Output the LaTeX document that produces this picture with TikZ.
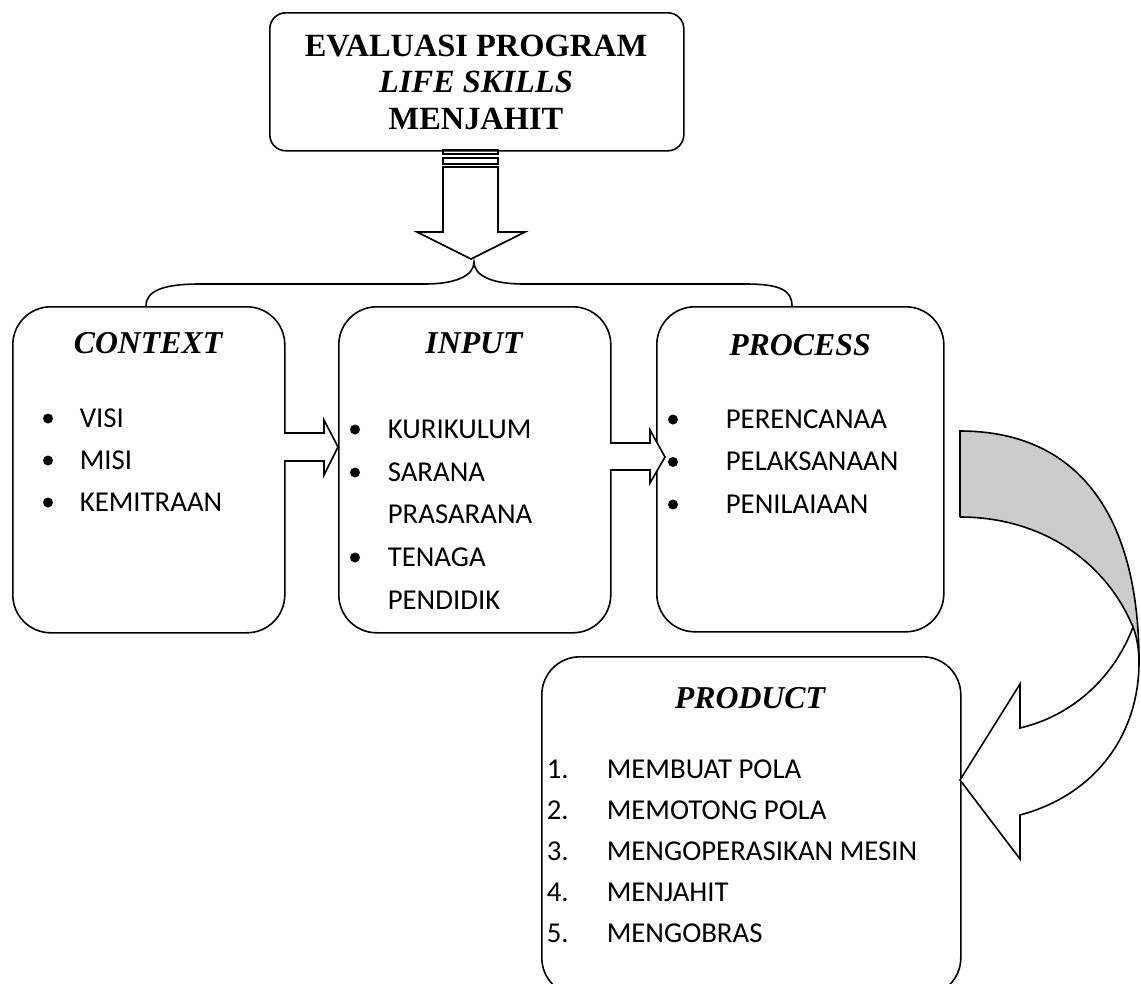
\documentclass[tikz,border=0pt]{standalone}
\usepackage{fontspec}
\setmainfont{Liberation Serif}
\newfontfamily\listfont{Carlito}
\definecolor{bandgray}{RGB}{204,204,204}

\begin{document}
\begin{tikzpicture}[x=1pt, y=-1pt, line width=1.6pt, line join=miter,
  box/.style={draw, inner sep=0pt, anchor=north west, rounded corners=38pt},
  headline/.style={font=\fontsize{32.4}{36}\selectfont\bfseries, anchor=base, inner sep=0pt},
  boxtitle/.style={font=\fontsize{31.8}{36}\selectfont\bfseries\itshape, anchor=base, inner sep=0pt},
  item/.style={font=\listfont\fontsize{28.8}{34}\selectfont, anchor=base west, inner sep=0pt},
  dot/.style={circle, fill, draw=none, inner sep=0pt, minimum size=10pt},
  blockarrow/.style={draw, fill=white}]

\useasboundingbox (0,0) rectangle (1141,983);

% ---- main heading box ----
\node[box, rounded corners=16pt, minimum width=414pt, minimum height=138pt] (head) at (269,12) {};
\node[headline] (h1) at (476,56) {EVALUASI PROGRAM};
\node[headline, font=\fontsize{32.4}{36}\selectfont\bfseries\itshape] (h2) at (476,92.5) {LIFE SKILLS};
\node[headline] (h3) at (476,129.5) {MENJAHIT};

% ---- striped down arrow under the heading ----
\draw (443,150) rectangle (498,154);
\draw (443,158) rectangle (498,164);
\draw[blockarrow] (443,167) -- (443,232) -- (417,232) -- (471,259) -- (525,232)
  -- (498,232) -- (498,167) -- cycle;

% ---- brace over the three CIPP boxes ----
\draw (146,306) .. controls (146,290) and (165,284) .. (200,284) -- (425,284)
  .. controls (455,284) and (474,276) .. (474,262)
  .. controls (474,276) and (493,284) .. (523,284) -- (745,284)
  .. controls (780,284) and (792,290) .. (792,306);

% ---- the four evaluation boxes ----
\node[box, minimum width=272pt, minimum height=326pt] (context) at (12,306) {};
\node[box, minimum width=272pt, minimum height=326pt] (input) at (338,306) {};
\node[box, minimum width=287pt, minimum height=325pt] (process) at (656,306) {};
\node[box, minimum width=419pt, minimum height=339pt] (product) at (541,656) {};

\node[boxtitle] (ctxT) at (148,353) {CONTEXT};
\node[boxtitle] (inpT) at (474,353) {INPUT};
\node[boxtitle] (proT) at (800,355) {PROCESS};
\node[boxtitle] (prdT) at (750,708) {PRODUCT};

% context items
\foreach \t [count=\k] in {VISI,MISI,KEMITRAAN} {
  \pgfmathsetmacro\yy{427+42*(\k-1)}
  \node[dot] (cb\k) at (48,\yy-8.5) {};
  \node[item] (c\k) at (79,\yy) {\t};
}

% input items
\node[dot] (ib1) at (355,429.5) {};
\node[item] (i1) at (387,438) {KURIKULUM};
\node[dot] (ib2) at (355,472.5) {};
\node[item] (i2) at (387,481) {SARANA};
\node[item] (i3) at (387,523.5) {PRASARANA};
\node[dot] (ib4) at (355,557.5) {};
\node[item] (i4) at (387,566) {TENAGA};
\node[item] (i5) at (387,609) {PENDIDIK};

% process items
\foreach \t [count=\k] in {PERENCANAA,PELAKSANAAN,PENILAIAAN} {
  \pgfmathsetmacro\yy{428+42.5*(\k-1)}
  \node[dot] (pb\k) at (673,\yy-8.5) {};
  \node[item] (p\k) at (725,\yy) {\t};
}

% product items
\foreach \t [count=\k] in {MEMBUAT POLA,MEMOTONG POLA,MENGOPERASIKAN MESIN,MENJAHIT,MENGOBRAS} {
  \pgfmathsetmacro\yy{778+41*(\k-1)}
  \node[item] (dn\k) at (546,\yy) {\k.};
  \node[item] (d\k) at (606,\yy) {\t};
}

% ---- block arrows between the boxes ----
\draw[blockarrow] (284,433) -- (324,433) -- (324,420) -- (338,447) -- (324,475)
  -- (324,461) -- (284,461);
\draw[blockarrow] (610,443) -- (650,443) -- (650,430) -- (665,457) -- (650,483)
  -- (650,470) -- (610,470);

% ---- curved arrow from PROCESS down to PRODUCT ----
\fill[bandgray] (960,431) .. controls (1078,431) and (1139,515) .. (1139,662)
  .. controls (1139,650) and (1137,637) .. (1133,627)
  .. controls (1105,560) and (1040,517) .. (960,517) -- cycle;
\draw (960,517) -- (960,431) .. controls (1078,431) and (1139,515) .. (1139,662);
\draw (960,517) .. controls (1040,517) and (1105,560) .. (1133,627);
\draw[fill=white] (1133,627) .. controls (1115,675) and (1075,715) .. (1020,728)
  -- (1020,684) -- (960,780) -- (1020,859) -- (1020,815)
  .. controls (1095,795) and (1139,735) .. (1139,662)
  .. controls (1139,650) and (1137,637) .. (1133,627) -- cycle;
\end{tikzpicture}
\end{document}
